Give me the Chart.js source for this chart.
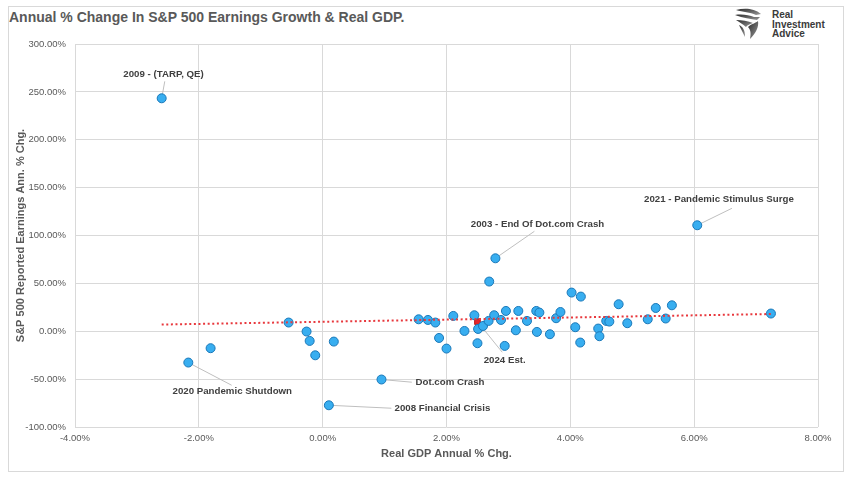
<!DOCTYPE html>
<html>
<head>
<meta charset="utf-8">
<script src="https://cdn.jsdelivr.net/npm/chart.js@4"></script>
<style>
  html, body { margin:0; padding:0; background:#ffffff; }
  body { width:860px; height:493px; position:relative; overflow:hidden; font-family:'Liberation Sans', Arial, sans-serif; }
  #frame { position:absolute; left:8px; top:6px; width:836px; height:466px; border:1px solid #d9d9d9; box-sizing:border-box; }
  #title { position:absolute; left:9px; top:9px; font-size:14px; font-weight:bold; color:#595959; white-space:nowrap; }
  #logoText { position:absolute; left:772px; top:10px; font-size:10px; font-weight:bold; color:#3a3a3a; line-height:9.5px; }
  #logoIcon { position:absolute; left:734px; top:7px; }
  #wrap { position:absolute; left:0; top:0; width:860px; height:493px; }
</style>
</head>
<body>
<div id="frame"></div>
<div id="title">Annual % Change In S&amp;P 500 Earnings Growth &amp; Real GDP.</div>
<svg id="logoIcon" width="30" height="34" viewBox="0 0 30 34">
  <defs>
    <linearGradient id="g1" x1="0" y1="0" x2="1" y2="1">
      <stop offset="0" stop-color="#2b2b2b"/><stop offset="1" stop-color="#9a9a9a"/>
    </linearGradient>
  </defs>
  <path d="M2 3 C10 1 20 1 27 7 L22 8 C16 5 9 5 2 3 Z" fill="url(#g1)"/>
  <path d="M1 8 C8 7 15 8 20 10 L26 10 L23 13 C17 12 9 11 1 8 Z" fill="url(#g1)"/>
  <path d="M2 13 C8 13 14 14 19 16 C16 17 13 18 12 20 C9 17 5 15 2 13 Z" fill="url(#g1)"/>
  <path d="M5 18 C9 20 11 23 11 30 C9 26 7 22 5 18 Z" fill="url(#g1)"/>
  <path d="M14 20 C17 17 22 16 24 14 C25 20 22 26 16 32 C17 27 17 23 14 20 Z" fill="url(#g1)"/>
</svg>
<div id="logoText">Real<br>Investment<br>Advice</div>
<div id="wrap"><canvas id="c" width="860" height="493"></canvas></div>
<script>
// ---- data ----
const gdpGrowth = [-2.60, 6.05, 2.79, 2.69, 1.55, 1.70, 1.82, 2.11, 2.45, 2.29, 2.51, 2.59, 2.68, 2.77, 2.88, 2.96, 3.16, 3.30, 3.45, 3.50, 3.12, 3.46, 3.67, 3.77, 3.84, 4.02, 4.17, 4.08, 4.16, 4.45, 4.47, 4.58, 4.63, 4.78, 4.92, 5.25, 5.38, 5.54, 5.64, 7.24, 1.88, 2.00, 2.50, 2.94, -0.55, -0.26, -0.21, -0.12, 0.18, -1.81, -2.17, 0.95, 0.10];
const epsGrowth = [243.3, 110.7, 76.2, 51.9, 12.5, 11.8, 9.1, 16.0, 16.7, 0.3, 2.4, 5.5, 10.8, 16.7, 11.8, 21.2, 21.2, 10.8, 21.2, 19.5, 1.0, -0.7, -3.1, 13.6, 20.1, 40.4, 36.2, 4.2, -11.8, 2.8, -5.2, 10.8, 10.1, 28.2, 8.4, 12.5, 24.3, 13.3, 27.1, 18.5, -7.0, -18.1, -12.5, -15.3, 9.1, -0.3, -10.1, -25.1, -10.8, -17.7, -32.7, -50.4, -77.3];
const estGdp = [2.50];
const estEps = [10.1];
const trendGdp = [-2.60, 7.24];
const trendEps = [7.0, 18.0];
const xTicks = [-4, -2, 0, 2, 4, 6, 8];
const yTicks = [-100, -50, 0, 50, 100, 150, 200, 250, 300];

// annotations (data units)
const annoText  = ['2009 - (TARP, QE)', '2003 - End Of Dot.com Crash', '2021 - Pandemic Stimulus Surge', '2020 Pandemic Shutdown', 'Dot.com Crash', '2008 Financial Crisis', '2024 Est.'];
const annoPtX   = [-2.60, 2.79, 6.05, -2.17, 0.95, 0.10, 2.50];
const annoPtY   = [243.3, 76.2, 110.7, -32.7, -50.4, -77.3, 10.1];
const annoEndX  = [-2.55, 3.42, 6.61, -1.47, 1.44, 1.11, 2.90];
const annoEndY  = [261.0, 104.4, 128.4, -56.4, -53.2, -80.4, -21.9];
const annoLblX  = [-2.57, 3.47, 6.40, -1.46, 1.50, 1.16, 2.94];
const annoLblY  = [268.3, 111.7, 137.8, -62.3, -53.2, -80.4, -30.3];
const annoAlign = ['center', 'center', 'center', 'center', 'left', 'left', 'center'];

const FONT = "'Liberation Sans', Arial, sans-serif";

const pts = gdpGrowth.map((x, i) => ({x, y: epsGrowth[i]}));
const estPts = estGdp.map((x, i) => ({x, y: estEps[i]}));
const trendPts = trendGdp.map((x, i) => ({x, y: trendEps[i]}));

const annoPlugin = {
  id: 'anno',
  beforeDatasetsDraw(chart) {
    const {ctx, scales: {x, y}} = chart;
    ctx.save();
    ctx.strokeStyle = '#bfbfbf';
    ctx.lineWidth = 1;
    for (let i = 0; i < annoText.length; i++) {
      ctx.beginPath();
      ctx.moveTo(x.getPixelForValue(annoPtX[i]), y.getPixelForValue(annoPtY[i]));
      ctx.lineTo(x.getPixelForValue(annoEndX[i]), y.getPixelForValue(annoEndY[i]));
      ctx.stroke();
    }
    ctx.restore();
  },
  afterDatasetsDraw(chart) {
    const {ctx, scales: {x, y}} = chart;
    ctx.save();
    ctx.font = 'bold 9.7px ' + FONT;
    ctx.fillStyle = '#404040';
    ctx.textBaseline = 'middle';
    for (let i = 0; i < annoText.length; i++) {
      ctx.textAlign = annoAlign[i];
      ctx.fillText(annoText[i], x.getPixelForValue(annoLblX[i]), y.getPixelForValue(annoLblY[i]));
    }
    ctx.restore();
  }
};

new Chart(document.getElementById('c'), {
  type: 'scatter',
  data: {
    datasets: [
      {
        type: 'line', data: trendPts, order: 0,
        borderColor: '#e8383d', borderWidth: 2, borderDash: [2, 2.6],
        pointRadius: 0, fill: false, tension: 0
      },
      {
        data: pts, order: 1,
        backgroundColor: '#38aef0', borderColor: '#1b78b8', borderWidth: 1,
        pointRadius: 4.5, pointHoverRadius: 4.5
      },
      {
        data: estPts, order: 2, pointStyle: 'rect',
        backgroundColor: '#e3262b', borderColor: '#c01818', borderWidth: 1,
        pointRadius: 4, pointHoverRadius: 4
      }
    ]
  },
  options: {
    responsive: false,
    animation: false,
    events: [],
    layout: { padding: { left: 0, top: 44, right: 42, bottom: 0 } },
    plugins: { legend: { display: false }, tooltip: { enabled: false } },
    scales: {
      x: {
        type: 'linear', min: -4, max: 8,
        afterBuildTicks(s) { s.ticks = xTicks.map(v => ({value: v})); },
        afterFit(s) { s.height = 66; },
        grid: { color: '#d9d9d9', lineWidth: 1, drawTicks: false },
        border: { display: false },
        ticks: {
          padding: 6, color: '#595959', maxRotation: 0,
          font: { family: FONT, size: 9.5 },
          callback: v => v.toFixed(2) + '%'
        },
        title: {
          display: true, text: 'Real GDP Annual % Chg.', color: '#595959',
          font: { family: FONT, size: 11, weight: 'bold' },
          padding: { top: 0, bottom: 32 }
        }
      },
      y: {
        type: 'linear', min: -100, max: 300,
        afterBuildTicks(s) { s.ticks = yTicks.map(v => ({value: v})); },
        afterFit(s) { s.width = 75; },
        grid: { color: '#d9d9d9', lineWidth: 1, drawTicks: false },
        border: { display: false },
        ticks: {
          padding: 9, color: '#595959',
          font: { family: FONT, size: 9.5 },
          callback: v => v.toFixed(2) + '%'
        },
        title: {
          display: true, text: 'S&P 500 Reported Earnings Ann. % Chg.', color: '#595959',
          font: { family: FONT, size: 11, weight: 'bold' },
          padding: { top: 14, bottom: 0 }
        }
      }
    }
  },
  plugins: [annoPlugin]
});
</script>
</body>
</html>
